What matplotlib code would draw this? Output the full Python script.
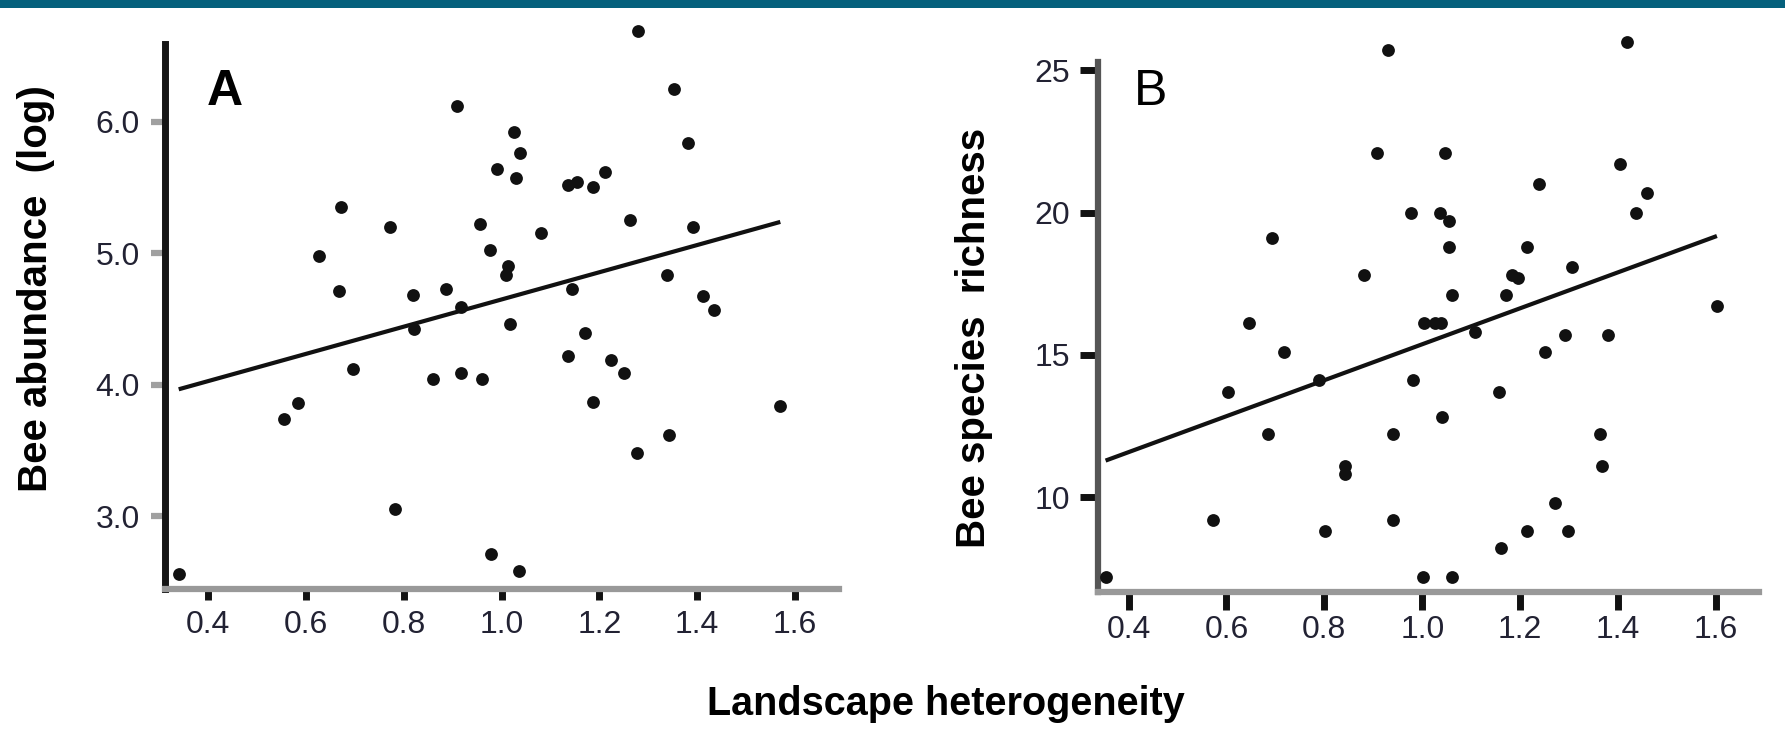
import matplotlib.pyplot as plt
from matplotlib.patches import Rectangle
import numpy as np

plt.rcParams['font.family'] = ['Liberation Sans', 'DejaVu Sans']

# panel A: bee abundance (log) vs landscape heterogeneity
het_a = [0.340, 1.280, 1.353, 0.910, 1.025, 1.037, 0.991, 1.029, 1.382, 1.135,
         1.155, 1.188, 1.212, 0.671, 0.773, 0.955, 1.080, 1.263, 1.391, 0.627,
         0.977, 1.013, 1.010, 0.667, 0.819, 0.886, 0.918, 1.144, 1.339, 1.412,
         1.435, 0.821, 1.017, 1.170, 0.697, 0.860, 0.918, 0.961, 1.135, 1.223,
         1.251, 0.555, 0.584, 1.188, 1.570, 1.342, 1.277, 0.782, 0.979, 1.035]
abund = [2.56, 6.69, 6.25, 6.12, 5.92, 5.76, 5.64, 5.57, 5.84, 5.52,
         5.54, 5.50, 5.62, 5.35, 5.20, 5.22, 5.15, 5.25, 5.20, 4.98,
         5.02, 4.90, 4.83, 4.71, 4.68, 4.73, 4.59, 4.73, 4.83, 4.67,
         4.57, 4.42, 4.46, 4.39, 4.12, 4.04, 4.09, 4.04, 4.22, 4.19,
         4.09, 3.74, 3.86, 3.87, 3.84, 3.62, 3.48, 3.05, 2.71, 2.58]

# panel B: bee species richness vs landscape heterogeneity
het_b = [0.929, 1.419, 0.907, 1.047, 1.405, 1.238, 1.460, 0.977, 1.037, 1.055,
         1.437, 0.692, 1.055, 1.214, 1.306, 0.880, 1.184, 1.195, 1.061, 1.172,
         1.602, 0.645, 1.003, 1.026, 1.038, 1.108, 1.292, 1.379, 0.717, 1.250,
         0.604, 0.789, 0.981, 1.156, 1.040, 0.685, 0.941, 1.364, 0.842, 0.842,
         1.368, 1.271, 0.573, 0.941, 0.802, 1.214, 1.298, 1.160, 0.353, 1.002,
         1.061]
rich = [25.7, 26.0, 22.1, 22.1, 21.7, 21.0, 20.7, 20.0, 20.0, 19.7,
        20.0, 19.1, 18.8, 18.8, 18.1, 17.8, 17.8, 17.7, 17.1, 17.1,
        16.7, 16.1, 16.1, 16.1, 16.1, 15.8, 15.7, 15.7, 15.1, 15.1,
        13.7, 14.1, 14.1, 13.7, 12.8, 12.2, 12.2, 12.2, 11.1, 10.8,
        11.1, 9.8, 9.2, 9.2, 8.8, 8.8, 8.8, 8.2, 7.2, 7.2,
        7.2]

# fitted lines (intercept, slope)
fit_a = (3.612, 1.035)
fit_b = (9.05, 6.32)

x_ticks = [0.4, 0.6, 0.8, 1.0, 1.2, 1.4, 1.6]
ya_ticks = [3.0, 4.0, 5.0, 6.0]
yb_ticks = [10, 15, 20, 25]

W, H = 1785, 749
fig = plt.figure(figsize=(W / 100, H / 100), dpi=100)

# top banner
fig.add_artist(Rectangle((0, 1 - 8 / H), 1, 8 / H, transform=fig.transFigure,
                         color='#05607c', lw=0))

axA = fig.add_axes([165 / W, 160 / H, 674 / W, 545 / H])
axB = fig.add_axes([1098 / W, 157.5 / H, 661 / W, 529.5 / H])

def panel(ax, x, y, fit, xlim, ylim, yticks, yfmt, yspine, ytk, xtk):
    ax.scatter(x, y, s=85, color='#111111', lw=0, clip_on=False, zorder=3)
    xs = np.array([min(x), max(x)])
    ax.plot(xs, fit[0] + fit[1] * xs, color='#111111', lw=3, solid_capstyle='butt')
    ax.set_xlim(*xlim)
    ax.set_ylim(*ylim)
    ax.set_xticks(x_ticks)
    ax.set_xticklabels(['%.1f' % v for v in x_ticks])
    ax.set_yticks(yticks)
    ax.set_yticklabels([yfmt % v for v in yticks])
    for s in ['top', 'right']:
        ax.spines[s].set_visible(False)
    ax.spines['left'].set_color(yspine[0])
    ax.spines['left'].set_linewidth(yspine[1])
    ax.spines['bottom'].set_color('#999999')
    ax.spines['bottom'].set_linewidth(4.5)
    ax.tick_params(axis='x', length=xtk[0], width=5, color='#111111', pad=xtk[1],
                   labelsize=23, labelcolor='#222233')
    ax.tick_params(axis='y', length=ytk[0], width=ytk[1], color=ytk[2], pad=ytk[3],
                   labelsize=23, labelcolor='#222233')
    ax.patch.set_alpha(0)

panel(axA, het_a, abund, fit_a, (0.312, 1.69), (2.445, 6.59), ya_ticks, '%.1f',
      ('#151515', 5), (10, 4.5, '#a0a0a0', 8), (8, 7))
panel(axB, het_b, rich, fit_b, (0.3375, 1.688), (6.68, 25.29), yb_ticks, '%d',
      ('#555555', 4.5), (13, 5, '#111111', 7), (13, 4))

fig.text(207 / W, 1 - 105 / H, 'A', fontsize=36, fontweight='bold', va='baseline')
fig.text(1134 / W, 1 - 105 / H, 'B', fontsize=36, va='baseline')

fig.text(36 / W, 1 - 289 / H, 'Bee abundance  (log)', rotation=90, fontsize=29,
         fontweight='bold', ha='center', va='center')
fig.text(974 / W, 1 - 338 / H, 'Bee species  richness', rotation=90, fontsize=29,
         fontweight='bold', ha='center', va='center')
fig.text(946 / W, 1 - 704 / H, 'Landscape heterogeneity', fontsize=28.5,
         fontweight='bold', ha='center', va='center')

fig.savefig('out.png', dpi=100)
